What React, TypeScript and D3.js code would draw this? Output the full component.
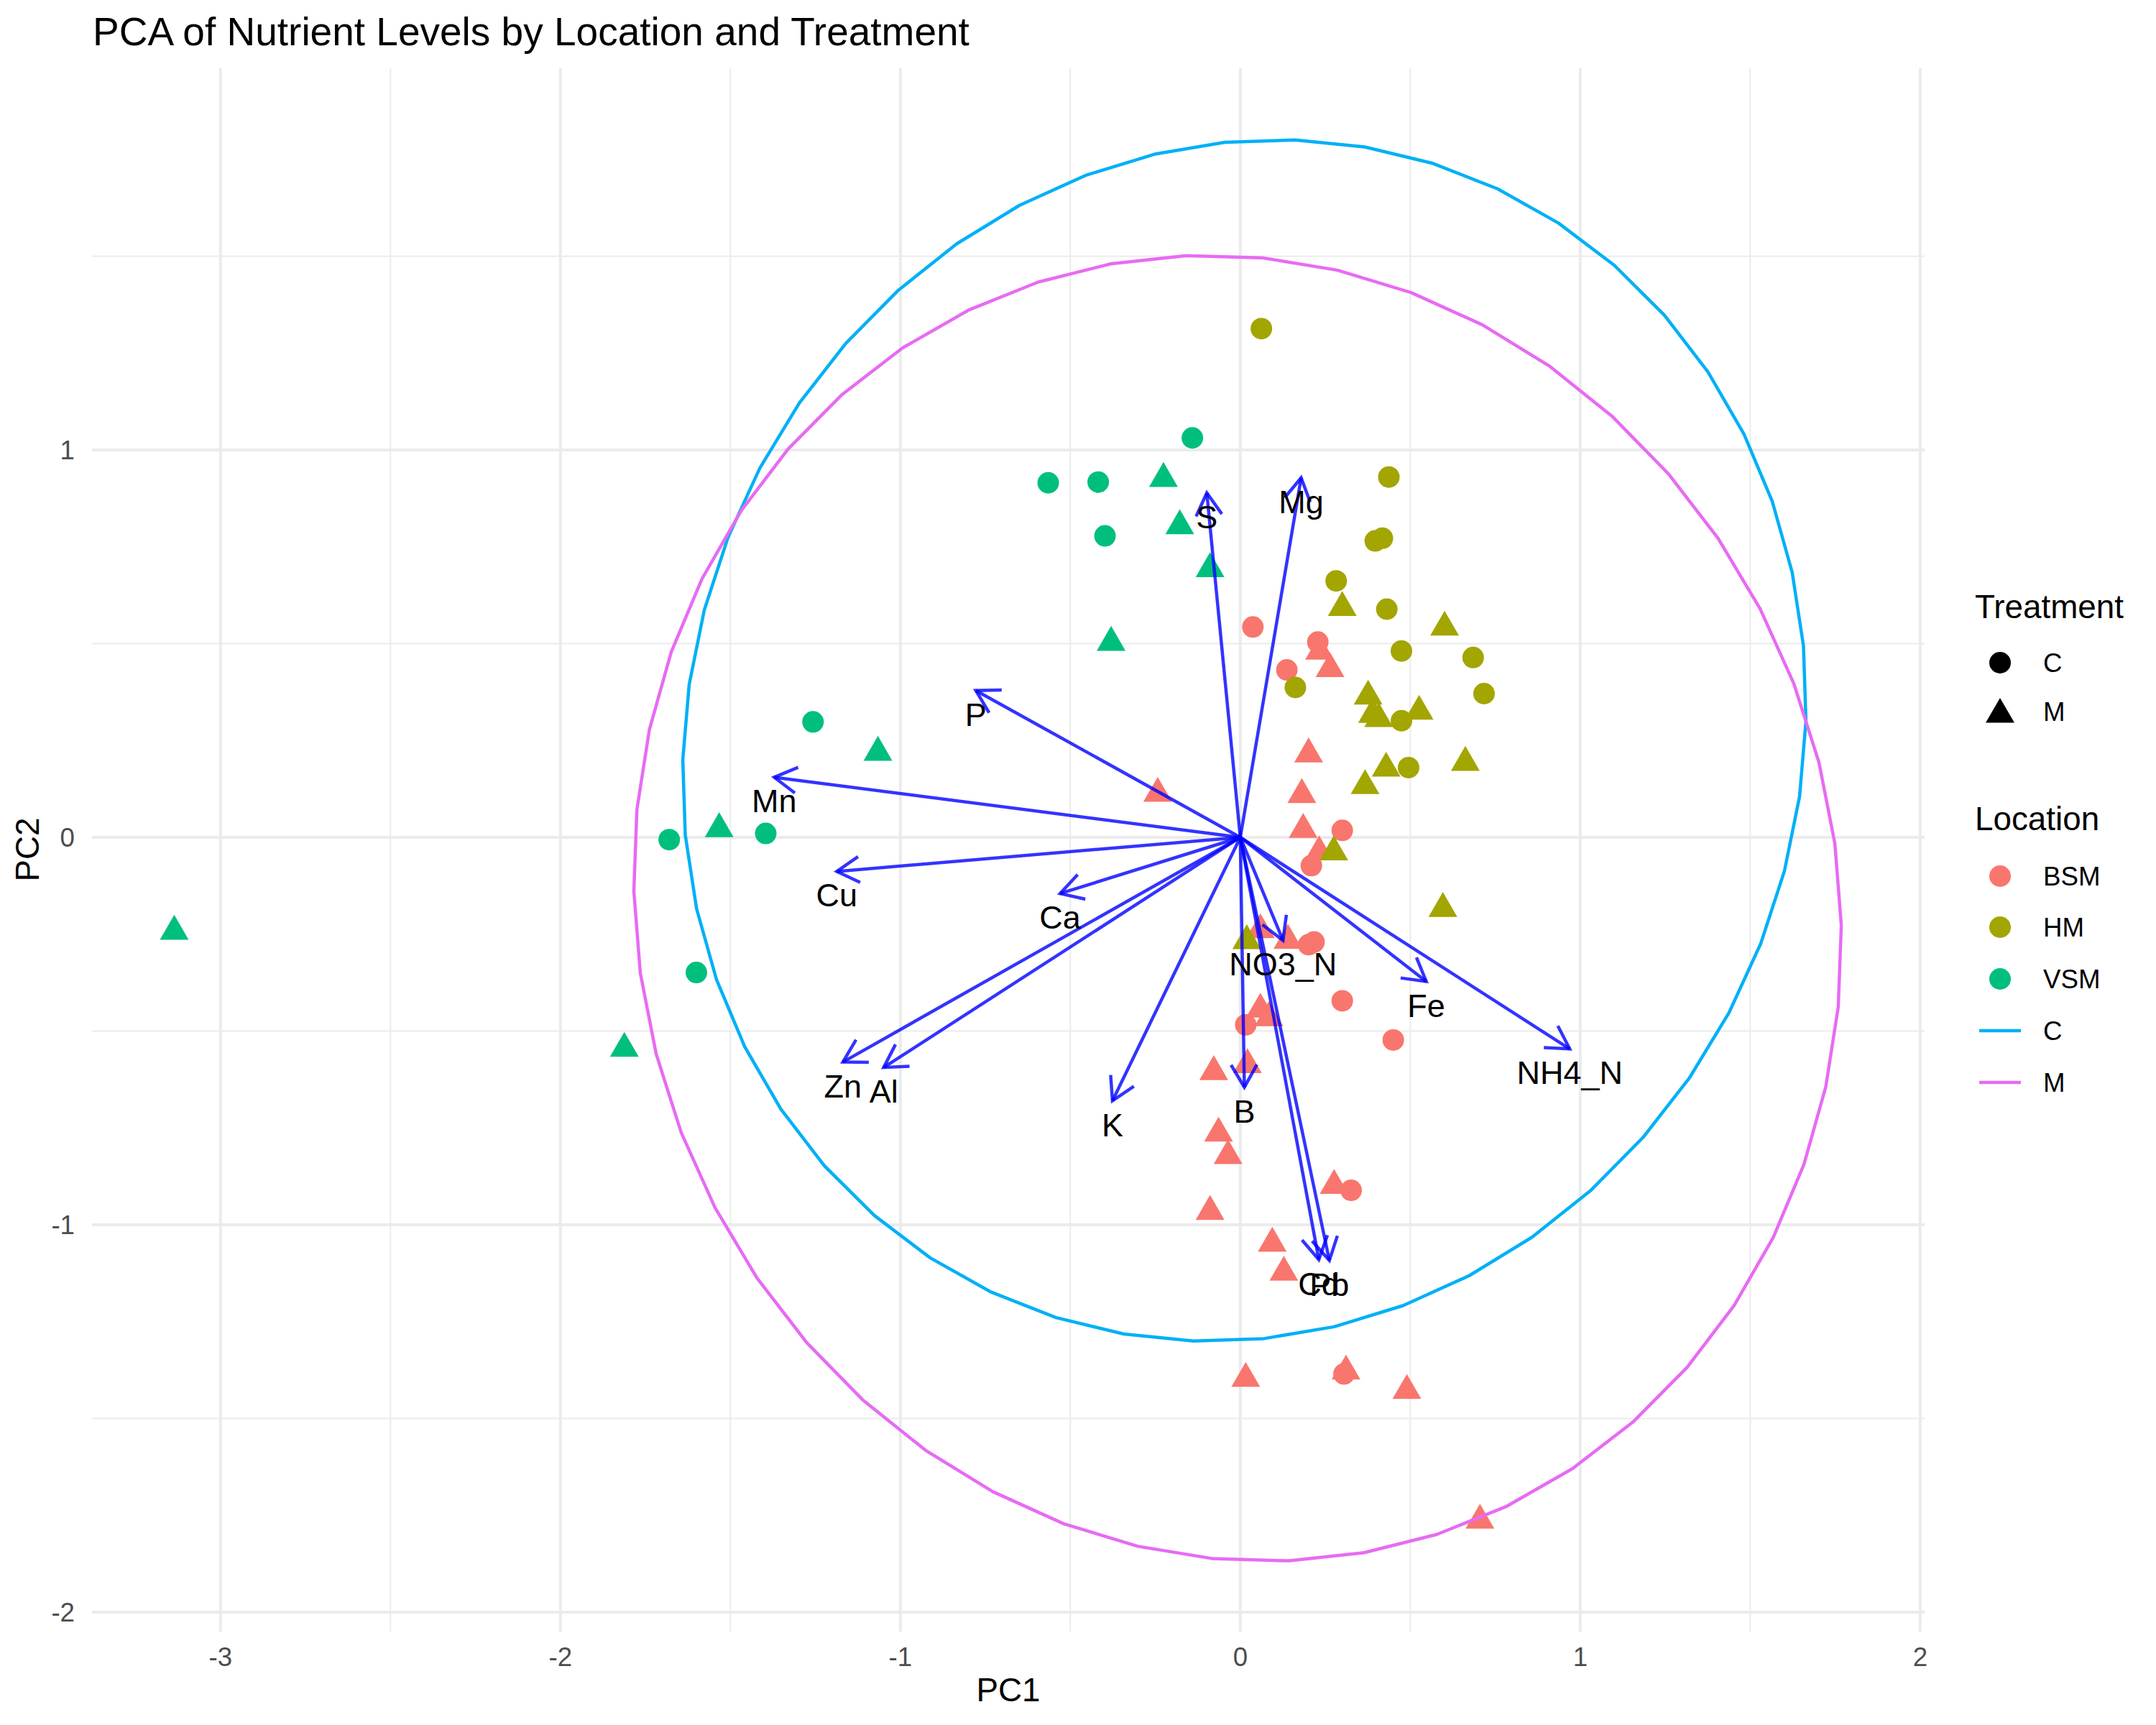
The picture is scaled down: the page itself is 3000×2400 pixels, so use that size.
import React from "react";
import * as d3 from "d3";

const W = 3000;
const H = 2400;
const FONT = "'Liberation Sans', Arial, Helvetica, sans-serif";

// ---- data ----
const locations = ["BSM", "HM", "VSM"];
const locationColors = ["#F8766D", "#A3A500", "#00BF7D"];
const treatments = ["C", "M"];
const ellipseColors = ["#00B0F6", "#E76BF3"];

// PCA scores [PC1, PC2]
const bsmC: [number, number][] = [
  [0.037, 0.543], [0.228, 0.504], [0.137, 0.432], [0.300, 0.018], [0.209, -0.073],
  [0.201, -0.277], [0.217, -0.270], [0.300, -0.422], [0.450, -0.523], [0.016, -0.484],
  [0.326, -0.911], [0.305, -1.385],
];
const bsmM: [number, number][] = [
  [0.233, 0.480], [0.264, 0.435], [0.201, 0.215], [0.181, 0.110], [-0.243, 0.113],
  [0.185, 0.020], [0.232, -0.038], [0.059, -0.239], [0.140, -0.266], [0.059, -0.444],
  [0.084, -0.466], [0.021, -0.587], [-0.078, -0.605], [-0.064, -0.764], [-0.036, -0.822],
  [0.276, -0.899], [-0.089, -0.966], [0.094, -1.048], [0.128, -1.123], [0.016, -1.397],
  [0.311, -1.378], [0.490, -1.428], [0.705, -1.763],
];
const hmC: [number, number][] = [
  [0.062, 1.313], [0.437, 0.930], [0.397, 0.765], [0.418, 0.772], [0.282, 0.662],
  [0.431, 0.589], [0.474, 0.481], [0.685, 0.464], [0.162, 0.387], [0.717, 0.371],
  [0.474, 0.301], [0.495, 0.180],
];
const hmM: [number, number][] = [
  [0.300, 0.593], [0.601, 0.542], [0.376, 0.364], [0.389, 0.317], [0.407, 0.306],
  [0.526, 0.325], [0.662, 0.193], [0.429, 0.178], [0.367, 0.133], [0.275, -0.038],
  [0.019, -0.267], [0.596, -0.184],
];
const vsmC: [number, number][] = [
  [-0.141, 1.031], [-0.565, 0.915], [-0.418, 0.917], [-0.398, 0.778], [-1.257, 0.298],
  [-1.396, 0.010], [-1.680, -0.006], [-1.600, -0.349],
];
const vsmM: [number, number][] = [
  [-0.226, 0.926], [-0.178, 0.804], [-0.089, 0.693], [-0.380, 0.503], [-1.066, 0.219],
  [-1.533, 0.022], [-3.136, -0.243], [-1.812, -0.545],
];

// loadings (arrow tips)
const variables = ["S", "Mg", "P", "Mn", "Cu", "Ca", "Zn", "Al", "K", "B", "NO3_N", "Fe", "NH4_N", "Cd", "Pb"];
const loadPC1 = [-0.0985, 0.179, -0.778, -1.371, -1.187, -0.530, -1.169, -1.049, -0.376, 0.012, 0.1256, 0.547, 0.969, 0.231, 0.262];
const loadPC2 = [0.889, 0.928, 0.379, 0.155, -0.088, -0.145, -0.580, -0.594, -0.680, -0.645, -0.266, -0.372, -0.546, -1.090, -1.092];

// ellipse parameters per treatment: centre and shape factors
const ellCx = [0.012, -0.008];
const ellCy = [0.25, -0.183];
const ellA = [1.652, 1.776];
const ellQ = [0.046, -0.04];
const ellB = [0.05, -0.044];
const ellC = [1.55, 1.685];

const xTicks = [-3, -2, -1, 0, 1, 2];
const xTickLabels = ["-3", "-2", "-1", "0", "1", "2"];
const xMinor = [-2.5, -1.5, -0.5, 0.5, 1.5];
const yTicks = [-2, -1, 0, 1];
const yTickLabels = ["-2", "-1", "0", "1"];
const yMinor = [-1.5, -0.5, 0.5, 1.5];

function triPath(cx: number, cy: number, s = 14.85) {
  return `M${cx},${cy - 1.5551 * s}L${cx + 1.3468 * s},${cy + 0.7776 * s}L${cx - 1.3468 * s},${cy + 0.7776 * s}Z`;
}

export default function App() {
  const x = d3.scaleLinear().domain([-3.378, 2.013]).range([128, 2678]);
  const y = d3.scaleLinear().domain([-2.05, 1.985]).range([2270, 95]);

  const groups = [
    { pts: bsmC, loc: 0, tr: 0 }, { pts: bsmM, loc: 0, tr: 1 },
    { pts: hmC, loc: 1, tr: 0 }, { pts: hmM, loc: 1, tr: 1 },
    { pts: vsmC, loc: 2, tr: 0 }, { pts: vsmM, loc: 2, tr: 1 },
  ];

  const line = d3.line<[number, number]>().x((d) => x(d[0])).y((d) => y(d[1]));
  const ellipses = treatments.map((_, k) => {
    const pts: [number, number][] = d3.range(51).map((i) => {
      const t = (2 * Math.PI * i) / 50;
      return [
        ellCx[k] + ellA[k] * Math.cos(t) + ellQ[k] * Math.sin(t),
        ellCy[k] + ellB[k] * Math.cos(t) + ellC[k] * Math.sin(t),
      ];
    });
    return line(pts) as string;
  });

  const x0 = x(0), y0 = y(0);
  const arrows = variables.map((v, i) => {
    const tx = x(loadPC1[i]), ty = y(loadPC2[i]);
    const a = Math.atan2(ty - y0, tx - x0);
    const L = 36, ang = Math.PI / 6;
    const b1 = [tx - L * Math.cos(a - ang), ty - L * Math.sin(a - ang)];
    const b2 = [tx - L * Math.cos(a + ang), ty - L * Math.sin(a + ang)];
    return { v, tx, ty, head: `M${b1[0]},${b1[1]}L${tx},${ty}L${b2[0]},${b2[1]}` };
  });

  const legX = 2783;
  const legTextX = 2843;
  const locKeyY = [1219, 1290, 1362];
  const lineKeyY = [1434, 1506];

  return (
    <svg width={W} height={H} style={{ position: "absolute", left: 0, top: 0, background: "#fff" }} fontFamily={FONT}>
      <rect width={W} height={H} fill="#fff" />
      {/* grid */}
      <g>
        {xMinor.map((t) => (
          <line key={"xm" + t} x1={x(t)} x2={x(t)} y1={95} y2={2270} stroke="#EBEBEB" strokeWidth={2} />
        ))}
        {yMinor.map((t) => (
          <line key={"ym" + t} x1={128} x2={2678} y1={y(t)} y2={y(t)} stroke="#EBEBEB" strokeWidth={2} />
        ))}
        {xTicks.map((t) => (
          <line key={"xM" + t} x1={x(t)} x2={x(t)} y1={95} y2={2270} stroke="#EBEBEB" strokeWidth={4} />
        ))}
        {yTicks.map((t) => (
          <line key={"yM" + t} x1={128} x2={2678} y1={y(t)} y2={y(t)} stroke="#EBEBEB" strokeWidth={4} />
        ))}
      </g>
      {/* points */}
      <g>
        {groups.map((g, gi) =>
          g.pts.map((p, i) =>
            g.tr === 0 ? (
              <circle key={gi + "-" + i} cx={x(p[0])} cy={y(p[1])} r={15} fill={locationColors[g.loc]} />
            ) : (
              <path key={gi + "-" + i} d={triPath(x(p[0]), y(p[1]))} fill={locationColors[g.loc]} />
            )
          )
        )}
      </g>
      {/* ellipses */}
      <g>
        {ellipses.map((d, k) => (
          <path key={k} d={d} fill="none" stroke={ellipseColors[k]} strokeWidth={4.5} strokeLinejoin="round" />
        ))}
      </g>
      {/* loadings */}
      <g stroke="#0000FF" strokeOpacity={0.8} strokeWidth={4.5} fill="none">
        {arrows.map((a) => (
          <g key={a.v}>
            <line x1={x0} y1={y0} x2={a.tx} y2={a.ty} />
            <path d={a.head} />
          </g>
        ))}
      </g>
      <g fontSize={45} fill="#000" textAnchor="middle">
        {arrows.map((a) => (
          <text key={a.v} x={a.tx} y={a.ty + 49}>{a.v}</text>
        ))}
      </g>
      {/* axes labels */}
      <g fontSize={36.7} fill="#4D4D4D">
        {xTicks.map((t, i) => (
          <text key={t} x={x(t)} y={2318} textAnchor="middle">{xTickLabels[i]}</text>
        ))}
        {yTicks.map((t, i) => (
          <text key={t} x={104} y={y(t) + 13} textAnchor="end">{yTickLabels[i]}</text>
        ))}
      </g>
      <text x={1403} y={2367} fontSize={45.8} textAnchor="middle" fill="#000">PC1</text>
      <text transform={`translate(54,${1182}) rotate(-90)`} fontSize={45.8} textAnchor="middle" fill="#000">PC2</text>
      <text x={129} y={63} fontSize={55} fill="#000">PCA of Nutrient Levels by Location and Treatment</text>

      {/* legend */}
      <g fontSize={45.8} fill="#000">
        <text x={2748} y={860}>Treatment</text>
        <text x={2748} y={1155}>Location</text>
      </g>
      <circle cx={legX} cy={922} r={15} fill="#000" />
      <path d={triPath(legX, 994)} fill="#000" />
      {locations.map((l, i) => (
        <circle key={l} cx={legX} cy={locKeyY[i]} r={15} fill={locationColors[i]} />
      ))}
      {treatments.map((t, i) => (
        <line key={t} x1={2754} x2={2812} y1={lineKeyY[i]} y2={lineKeyY[i]} stroke={ellipseColors[i]} strokeWidth={4.5} />
      ))}
      <g fontSize={36.7} fill="#000">
        <text x={legTextX} y={922 + 13}>C</text>
        <text x={legTextX} y={990 + 13}>M</text>
        {locations.map((l, i) => (
          <text key={l} x={legTextX} y={locKeyY[i] + 13}>{l}</text>
        ))}
        {treatments.map((t, i) => (
          <text key={t} x={legTextX} y={lineKeyY[i] + 13}>{t}</text>
        ))}
      </g>
    </svg>
  );
}
